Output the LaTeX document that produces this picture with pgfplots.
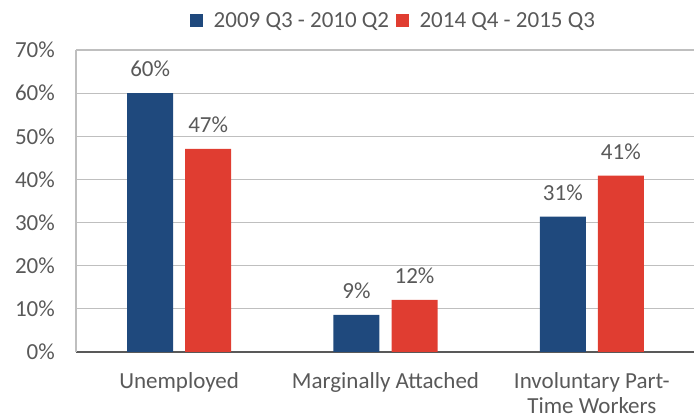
\documentclass[border=0pt]{standalone}
\usepackage{fontspec}
\setmainfont{Carlito}
\usepackage{pgfplots}
\pgfplotsset{compat=1.18}
\definecolor{cblue}{RGB}{31,73,125}
\definecolor{cred}{RGB}{224,61,49}
\definecolor{ctext}{RGB}{89,89,89}
\definecolor{cgrid}{RGB}{191,191,191}
\begin{document}
\begin{tikzpicture}
\begin{axis}[
  scale only axis, width=619pt, height=302pt,
  ymin=0, ymax=70, ytick={0,10,...,70},
  xmin=-0.5, xmax=2.5, xtick={0,1,2},
  enlargelimits=false,
  ybar=12pt, bar width=46pt,
  legend image code/.code={\fill[#1] (0pt,-6.5pt) rectangle (13pt,6.5pt);},
  xticklabels={Unemployed, Marginally Attached, {Involuntary Part-\\Time Workers}},
  xticklabel style={align=center, text=ctext, font=\fontsize{23}{25.5}\selectfont, inner sep=0pt, anchor=north, yshift=-20pt},
  yticklabel={\pgfmathprintnumber{\tick}\%},
  yticklabel style={text=ctext, font=\fontsize{23}{27}\selectfont, inner sep=0pt, anchor=east, xshift=-21pt},
  /pgf/number format/assume math mode=true,
  major tick length=0pt,
  axis x line*=bottom, axis y line*=left,
  x axis line style={-, draw=ctext, line width=1.6pt},
  y axis line style={-, draw=cgrid, line width=1.2pt},
  ymajorgrids, grid style={draw=cgrid, line width=1.2pt},
  point meta=y,
  nodes near coords={\pgfmathprintnumber[fixed,precision=0]{\pgfplotspointmeta}\%},
  every node near coord/.append style={text=ctext, font=\fontsize{23}{27}\selectfont, anchor=south, inner sep=0pt, yshift=16pt},
  legend columns=2,
  legend style={at={(axis description cs:0.511,1)}, anchor=center, yshift=29pt, draw=none, fill=none,
    font=\fontsize{23}{27}\selectfont, text=ctext, inner sep=0pt,
    nodes={inner sep=0pt, text=ctext},
    /tikz/every odd column/.style={column sep=11pt},
    /tikz/every even column/.style={column sep=6.5pt}},
]
\addplot[fill=cblue, draw=none] coordinates {(0,60.0) (1,8.6) (2,31.4)};
\addplot[fill=cred, draw=none] coordinates {(0,47.1) (1,12.1) (2,40.9)};
\legend{2009 Q3 - 2010 Q2, 2014 Q4 - 2015 Q3}
\end{axis}
\pgfresetboundingbox
\path (current axis.south west) ++(-76pt,-68pt) rectangle ++(694pt,420pt);
\end{tikzpicture}
\end{document}
